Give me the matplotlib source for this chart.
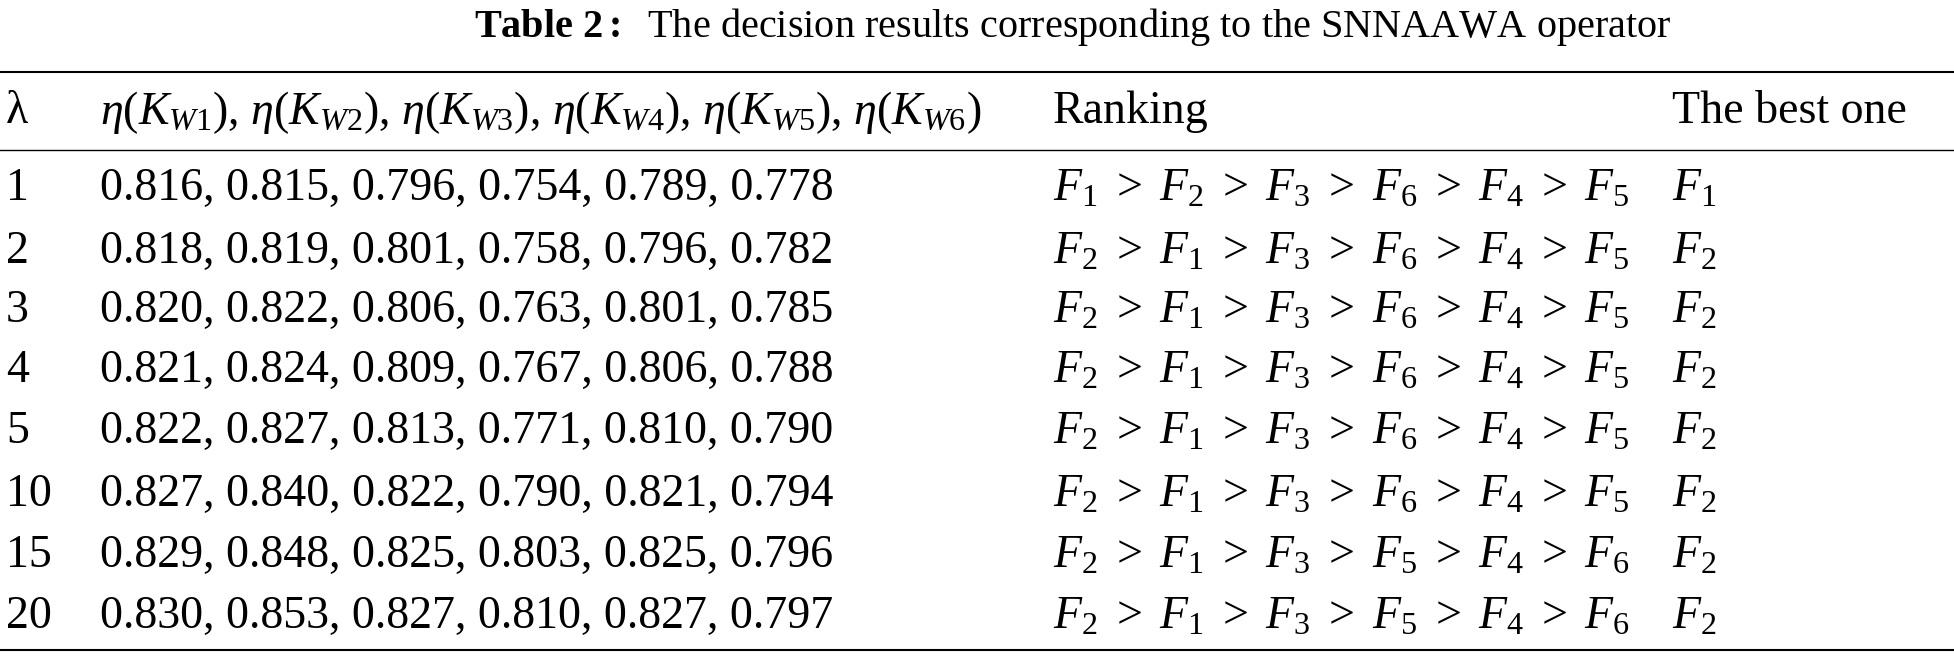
import matplotlib
matplotlib.use("Agg")
import matplotlib.pyplot as plt

plt.rcParams['font.family'] = ['Liberation Serif', 'DejaVu Serif']
plt.rcParams['mathtext.fontset'] = 'custom'
plt.rcParams['mathtext.rm'] = 'Liberation Serif'
plt.rcParams['mathtext.it'] = 'Liberation Serif:italic'
plt.rcParams['mathtext.bf'] = 'Liberation Serif:bold'

lambdas = ["1", "2", "3", "4", "5", "10", "15", "20"]
values = [
    [0.816, 0.815, 0.796, 0.754, 0.789, 0.778],
    [0.818, 0.819, 0.801, 0.758, 0.796, 0.782],
    [0.820, 0.822, 0.806, 0.763, 0.801, 0.785],
    [0.821, 0.824, 0.809, 0.767, 0.806, 0.788],
    [0.822, 0.827, 0.813, 0.771, 0.810, 0.790],
    [0.827, 0.840, 0.822, 0.790, 0.821, 0.794],
    [0.829, 0.848, 0.825, 0.803, 0.825, 0.796],
    [0.830, 0.853, 0.827, 0.810, 0.827, 0.797],
]
rankings = [
    [1, 2, 3, 6, 4, 5],
    [2, 1, 3, 6, 4, 5],
    [2, 1, 3, 6, 4, 5],
    [2, 1, 3, 6, 4, 5],
    [2, 1, 3, 6, 4, 5],
    [2, 1, 3, 6, 4, 5],
    [2, 1, 3, 5, 4, 6],
    [2, 1, 3, 5, 4, 6],
]
best = [1, 2, 2, 2, 2, 2, 2, 2]

W, H = 1954, 658
fig = plt.figure(figsize=(W / 100, H / 100), dpi=100)
ax = fig.add_axes([0, 0, 1, 1])
ax.set_xlim(0, W)
ax.set_ylim(H, 0)
ax.axis('off')

fs = 33
ax.text(1073, 27, r"$\mathbf{Table\ 2:}$  The decision results corresponding to the SNNAAWA operator",
        ha='center', va='center', fontsize=29)

for y, lw in [(72, 1.5), (150, 1.0), (650, 1.5)]:
    ax.plot([0, W], [y, y], color='black', lw=lw)

xs = [6, 100, 1053, 1672]
hy = 112
ax.text(xs[0], hy, "λ", ha='left', va='center', fontsize=fs)
hdr = ", ".join([r"$\eta(K_{W%d})$" % i for i in range(1, 7)])
ax.text(xs[1], hy, hdr, ha='left', va='center', fontsize=fs)
ax.text(xs[2], hy, "Ranking", ha='left', va='center', fontsize=fs)
ax.text(xs[3], hy, "The best one", ha='left', va='center', fontsize=fs)

row_y = [189, 252, 311, 371, 432, 495, 556, 617]
for i, y in enumerate(row_y):
    ax.text(xs[0], y, lambdas[i], ha='left', va='center', fontsize=fs)
    ax.text(xs[1], y, ", ".join("%.3f" % v for v in values[i]), ha='left', va='center', fontsize=fs)
    rk = r"$" + r"\ >\ ".join("F_{%d}" % k for k in rankings[i]) + r"$"
    ax.text(xs[2], y, rk, ha='left', va='center', fontsize=fs)
    ax.text(xs[3], y, r"$F_{%d}$" % best[i], ha='left', va='center', fontsize=fs)

fig.savefig("out.png", dpi=100)
